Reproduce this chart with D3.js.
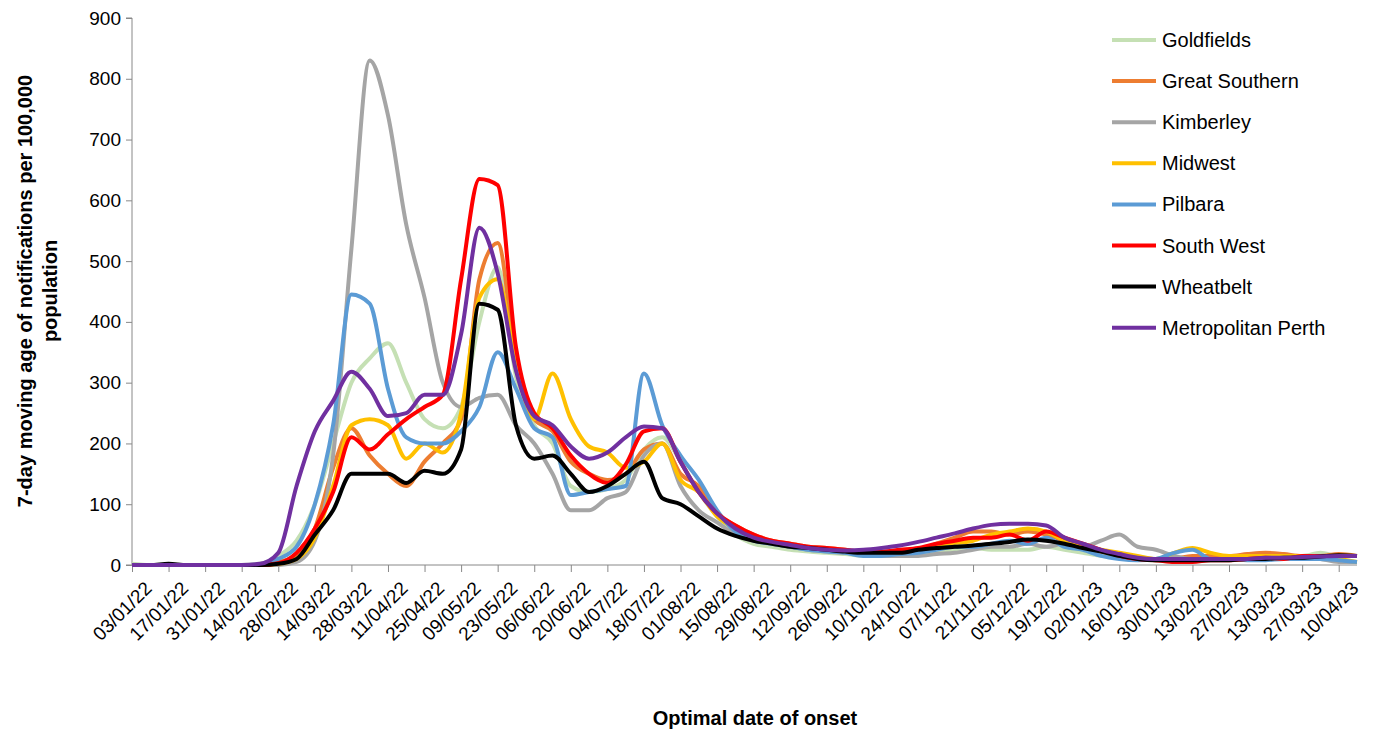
<!DOCTYPE html>
<html><head><meta charset="utf-8">
<script src="https://cdn.jsdelivr.net/npm/d3@7"></script>
<style>body{margin:0;background:#fff;font-family:"Liberation Sans",Arial,sans-serif}</style>
</head><body>
<script>
// weekly samples from 03/01/22
var startDate = new Date(2022, 0, 3);
var nWeeks = 68;
var names = ["Goldfields","Great Southern","Kimberley","Midwest","Pilbara","South West","Wheatbelt","Metropolitan Perth"];
var colors = ["#c5e0b4","#ed7d31","#a5a5a5","#ffc000","#5b9bd5","#ff0000","#000000","#7030a0"];
var goldfields = [2,0,0,0,0,0,0,2,15,40,100,200,300,340,365,300,240,225,260,400,490,310,230,200,130,120,125,140,190,210,170,120,80,50,35,30,25,22,20,18,15,15,15,18,22,25,28,25,25,25,30,25,20,15,12,10,10,10,10,10,12,12,15,15,15,20,15,15];
var greatSouthern = [0,0,0,0,0,0,0,0,5,15,60,160,225,180,150,130,170,200,240,470,530,340,240,220,170,150,140,150,190,200,150,130,85,65,50,40,35,30,28,25,20,20,22,25,35,45,55,55,50,55,50,40,30,22,15,10,8,10,15,15,15,18,20,18,15,15,18,15];
var kimberley = [0,0,0,0,0,0,0,0,0,5,40,180,520,830,740,560,440,300,260,275,280,230,200,150,90,90,110,120,180,200,130,90,70,50,40,35,30,25,22,20,18,15,15,15,18,20,25,30,30,35,30,35,30,40,50,30,25,15,10,10,10,10,12,12,15,10,5,5];
var midwest = [0,0,0,0,0,0,0,0,2,10,45,130,230,240,230,175,200,185,250,440,470,330,240,315,240,195,185,160,170,200,140,120,80,60,45,38,32,28,25,22,20,20,22,25,30,35,40,50,55,60,55,40,30,25,20,15,10,20,28,20,15,15,15,15,15,15,10,5];
var pilbara = [0,0,0,0,0,0,0,1,10,30,100,230,445,430,290,210,200,200,220,260,350,290,225,210,115,120,125,130,315,230,180,140,90,55,40,35,30,25,22,20,15,15,18,20,25,30,30,35,40,35,45,30,25,15,10,8,10,20,25,10,10,8,8,10,10,10,8,5];
var southWest = [0,0,0,0,0,0,0,0,3,20,60,120,210,190,215,240,260,280,470,635,625,358,250,225,180,150,135,165,220,225,170,120,85,65,50,40,35,30,28,25,22,22,25,28,35,40,45,45,50,40,55,45,35,25,15,10,8,5,5,8,8,10,12,10,15,15,15,15];
var wheatbelt = [0,0,2,0,0,0,0,0,2,10,50,90,150,150,150,135,155,150,190,430,420,230,175,180,150,120,130,150,170,110,100,80,60,48,40,35,30,28,25,22,20,20,20,25,28,30,32,35,38,42,40,35,28,22,15,10,8,8,8,8,8,10,10,12,12,14,16,15];
var metroPerth = [0,0,0,0,0,0,0,2,20,130,220,270,318,290,245,250,280,280,380,555,480,320,245,230,195,175,185,210,228,225,170,120,85,60,45,38,33,28,25,24,25,28,32,38,45,52,60,66,68,68,65,45,35,25,18,12,10,10,10,10,10,10,12,12,13,14,15,15];
var series = [goldfields, greatSouthern, kimberley, midwest, pilbara, southWest, wheatbelt, metroPerth];
var yTicks = [0,100,200,300,400,500,600,700,800,900];

var dates = d3.range(nWeeks).map(i => d3.timeDay.offset(startDate, i * 7));
var xTicks = d3.range(0, nWeeks, 2).map(i => dates[i]);

var W = 1380, H = 731;
var svg = d3.select("body").append("svg").attr("width", W).attr("height", H);

var x = d3.scaleTime().domain([startDate, dates[nWeeks - 1]]).range([132, 1357]);
var y = d3.scaleLinear().domain([0, 900]).range([565, 18]);

// axes
var ya = svg.append("g").attr("transform", "translate(132,0)")
  .call(d3.axisLeft(y).tickValues(yTicks).tickSize(6).tickFormat(d3.format("d")));
ya.selectAll("text").attr("font-size", "19px").attr("font-family", "Liberation Sans, Arial").attr("fill", "#000").attr("dx", "-2");
ya.selectAll("line").attr("stroke", "#888");
ya.select(".domain").attr("stroke", "#888").attr("d", "M-6,565H0V18H-6");

var xa = svg.append("g").attr("transform", "translate(0,565)")
  .call(d3.axisBottom(x).tickValues(xTicks).tickSize(7).tickFormat(d3.timeFormat("%d/%m/%y")));
xa.selectAll("line").attr("stroke", "#888");
xa.select(".domain").attr("stroke", "#888").attr("d", "M132,0H1357");
xa.selectAll("text").attr("font-size", "19px").attr("font-family", "Liberation Sans, Arial").attr("fill", "#000")
  .attr("text-anchor", "end").attr("transform", "translate(4,8) rotate(-45)").attr("dy", "0.7em").attr("dx", "0");

// lines
var line = d3.line().x((d, i) => x(dates[i])).y(d => y(d)).curve(d3.curveMonotoneX);
svg.selectAll("path.series").data(series).enter().append("path")
  .attr("class", "series").attr("d", line).attr("fill", "none")
  .attr("stroke", (d, i) => colors[i]).attr("stroke-width", 4).attr("stroke-linejoin", "round");

// legend
var lg = svg.selectAll("g.leg").data(names).enter().append("g").attr("class", "leg")
  .attr("transform", (d, i) => "translate(1112," + (40 + i * 41.1) + ")");
lg.append("line").attr("x1", 0).attr("x2", 44).attr("stroke", (d, i) => colors[i]).attr("stroke-width", 4);
lg.append("text").attr("x", 50).attr("dy", "0.35em").attr("font-size", "20px").text(d => d);

// titles
svg.append("text").attr("transform", "translate(32,291) rotate(-90)").attr("text-anchor", "middle")
  .attr("font-size", "20px").attr("font-weight", "bold").text("7-day moving age of notifications  per 100,000");
svg.append("text").attr("transform", "translate(57,291) rotate(-90)").attr("text-anchor", "middle")
  .attr("font-size", "20px").attr("font-weight", "bold").text("population");
svg.append("text").attr("x", 755).attr("y", 725).attr("text-anchor", "middle")
  .attr("font-size", "20px").attr("font-weight", "bold").text("Optimal date of onset");
</script>
</body></html>
